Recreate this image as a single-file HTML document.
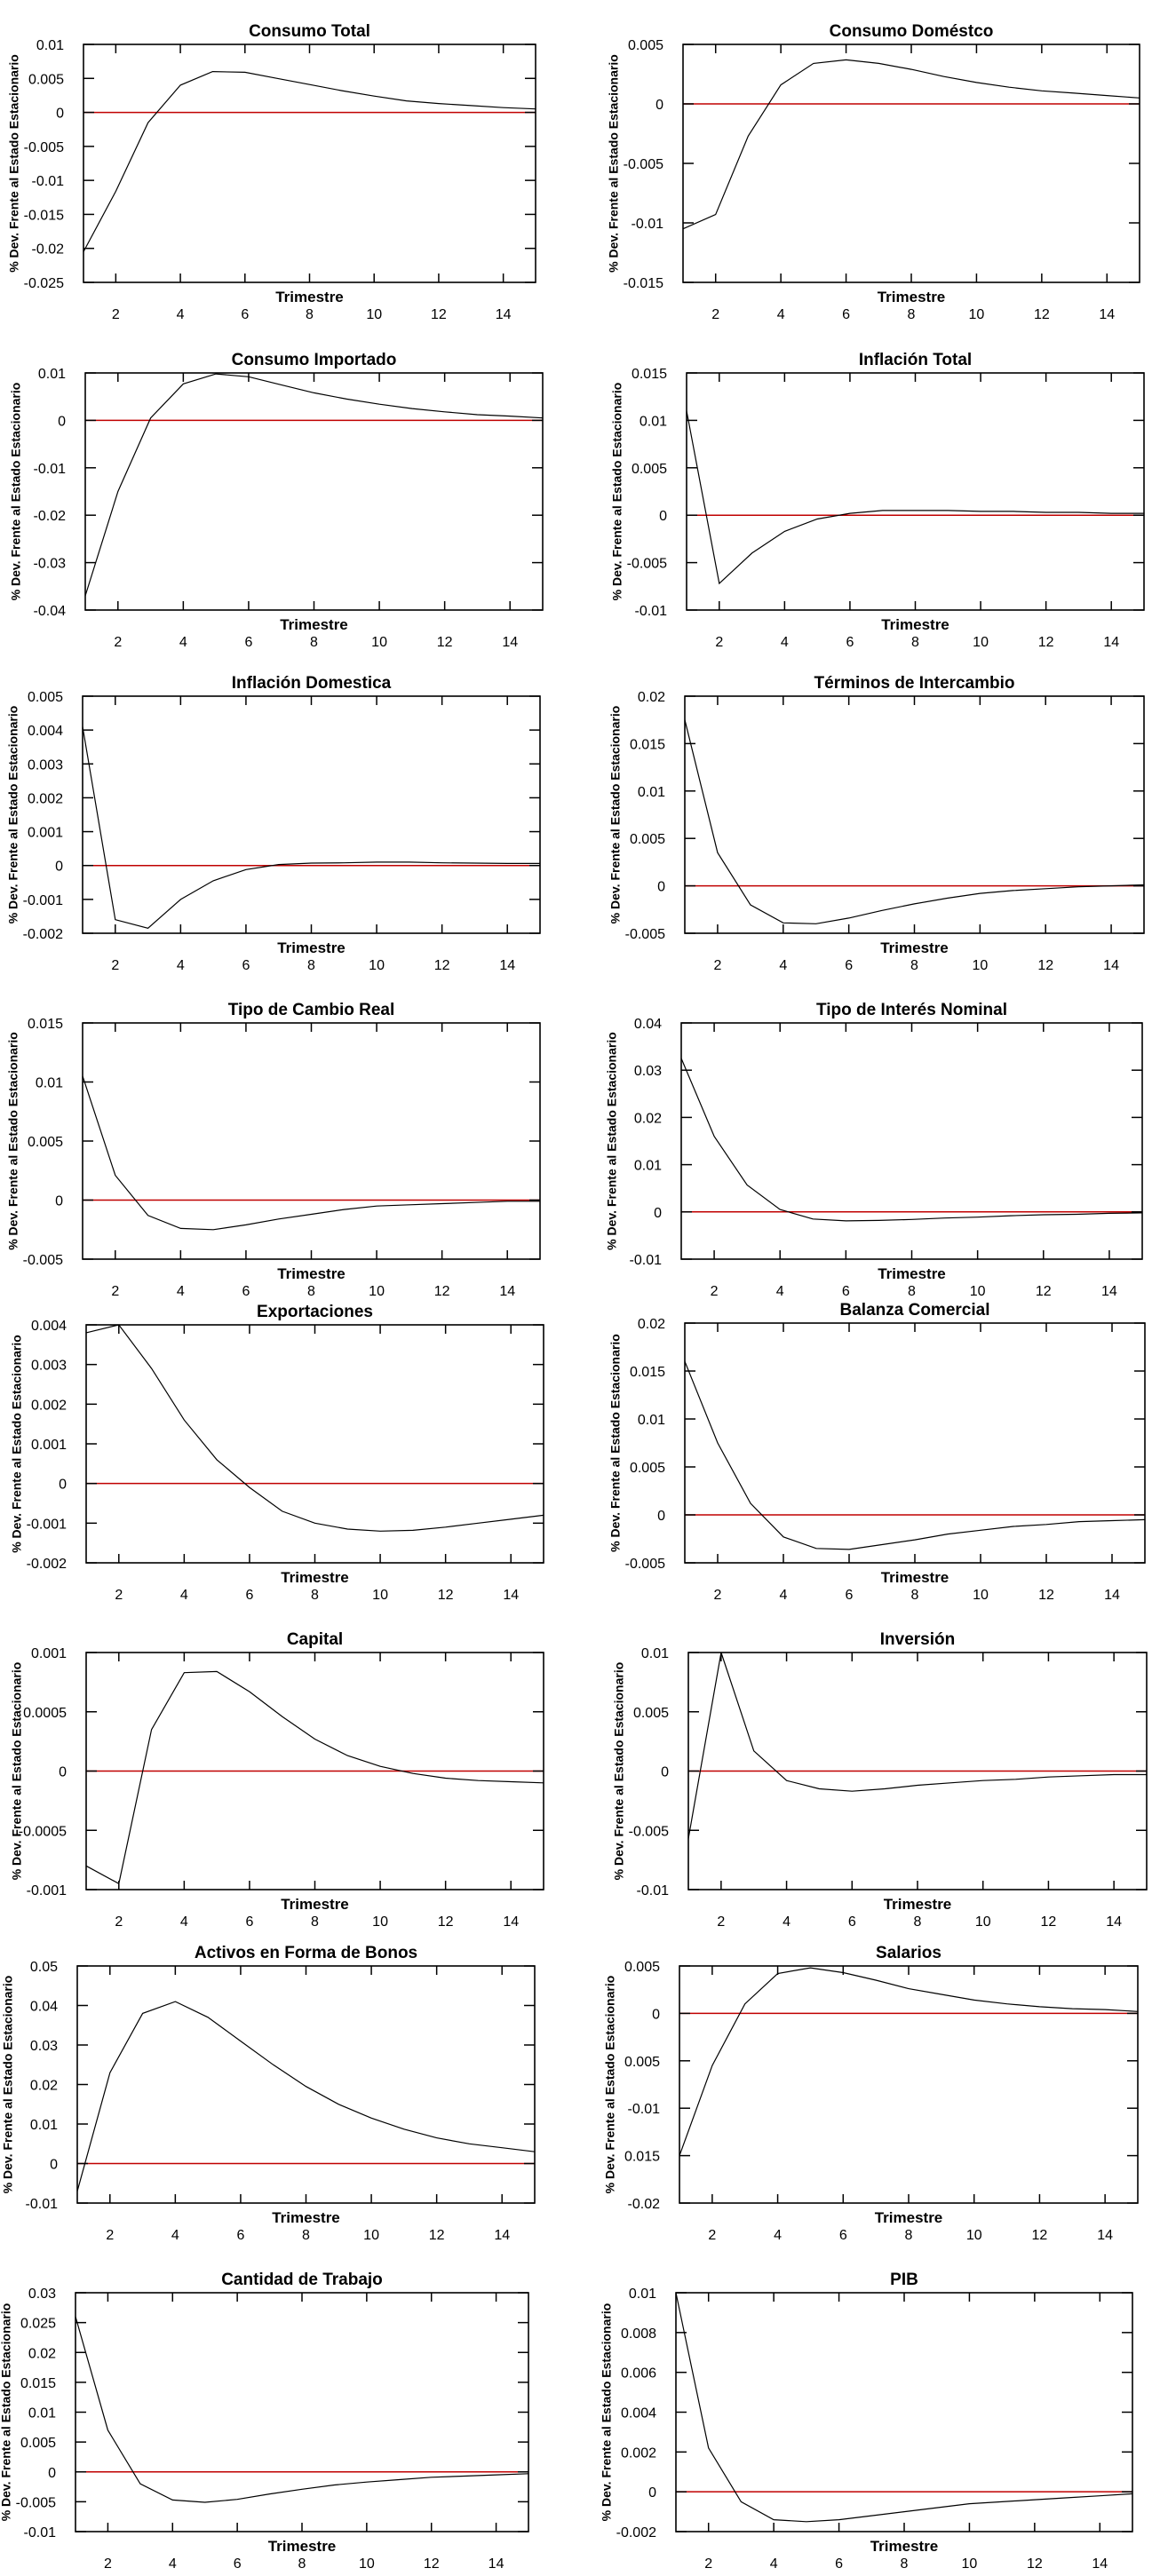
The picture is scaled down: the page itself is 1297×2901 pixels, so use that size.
<!DOCTYPE html>
<html><head><meta charset="utf-8"><style>
html,body{margin:0;padding:0;background:#fff;}
svg{display:block;font-family:"Liberation Sans",Arial,sans-serif;}
</style></head><body>
<svg id="c" width="1297" height="2901" viewBox="0 0 1297 2901"></svg>
<script>
const quarters = [1,2,3,4,5,6,7,8,9,10,11,12,13,14,15];
const titles = ["Consumo Total","Consumo Doméstco","Consumo Importado","Inflación Total","Inflación Domestica","Términos de Intercambio","Tipo de Cambio Real","Tipo de Interés Nominal","Exportaciones","Balanza Comercial","Capital","Inversión","Activos en Forma de Bonos","Salarios","Cantidad de Trabajo","PIB"];
const consumoTotal = [-0.0205,-0.0116,-0.0015,0.004,0.006,0.0059,0.005,0.0041,0.0032,0.0024,0.0017,0.0013,0.001,0.0007,0.0005];
const consumoDomestico = [-0.0105,-0.0093,-0.0027,0.0016,0.0034,0.0037,0.0034,0.0029,0.0023,0.0018,0.0014,0.0011,0.0009,0.0007,0.0005];
const consumoImportado = [-0.037,-0.015,0.0005,0.0077,0.0098,0.0092,0.0075,0.0058,0.0045,0.0034,0.0025,0.0018,0.0012,0.0009,0.0005];
const inflacionTotal = [0.011,-0.0072,-0.004,-0.0017,-0.0004,0.0002,0.0005,0.0005,0.0005,0.0004,0.0004,0.0003,0.0003,0.0002,0.0002];
const inflacionDomestica = [0.0041,-0.0016,-0.00185,-0.001,-0.00045,-0.00012,0.00003,0.00007,0.00008,0.0001,0.0001,0.00008,0.00007,0.00006,0.00006];
const terminosIntercambio = [0.0175,0.0035,-0.002,-0.0039,-0.004,-0.0034,-0.0026,-0.0019,-0.0013,-0.0008,-0.0005,-0.0003,-0.0001,0,0.0001];
const tipoCambioReal = [0.0105,0.0021,-0.0013,-0.0024,-0.0025,-0.0021,-0.0016,-0.0012,-0.0008,-0.0005,-0.0004,-0.0003,-0.0002,-0.0001,-0.0001];
const tipoInteres = [0.0325,0.016,0.0057,0.0005,-0.0015,-0.0019,-0.0018,-0.0016,-0.0013,-0.0011,-0.0008,-0.0006,-0.0005,-0.0003,-0.0002];
const exportaciones = [0.0038,0.004,0.0029,0.0016,0.0006,-0.0001,-0.0007,-0.001,-0.00115,-0.0012,-0.00118,-0.0011,-0.001,-0.0009,-0.0008];
const balanzaComercial = [0.016,0.0075,0.0012,-0.0023,-0.0035,-0.0036,-0.0031,-0.0026,-0.002,-0.0016,-0.0012,-0.001,-0.0007,-0.0006,-0.0005];
const capital = [-0.0008,-0.00095,0.00035,0.00083,0.00084,0.00067,0.00046,0.00027,0.00013,0.00004,-0.00002,-0.00006,-0.00008,-0.00009,-0.0001];
const inversion = [-0.0057,0.01,0.0017,-0.0008,-0.0015,-0.0017,-0.0015,-0.0012,-0.001,-0.0008,-0.0007,-0.0005,-0.0004,-0.0003,-0.0003];
const activosBonos = [-0.007,0.023,0.038,0.041,0.037,0.031,0.025,0.0195,0.015,0.0115,0.0087,0.0065,0.005,0.004,0.003];
const salarios = [-0.015,-0.0055,0.001,0.0042,0.0048,0.0043,0.0035,0.0026,0.002,0.0014,0.001,0.0007,0.0005,0.0004,0.0002];
const cantidadTrabajo = [0.026,0.007,-0.002,-0.0047,-0.0051,-0.0046,-0.0037,-0.0029,-0.0022,-0.0017,-0.0013,-0.0009,-0.0007,-0.0005,-0.0003];
const pib = [0.01,0.0022,-0.0005,-0.0014,-0.0015,-0.0014,-0.0012,-0.001,-0.0008,-0.0006,-0.0005,-0.0004,-0.0003,-0.0002,-0.0001];
const seriesList = [consumoTotal,consumoDomestico,consumoImportado,inflacionTotal,inflacionDomestica,terminosIntercambio,tipoCambioReal,tipoInteres,exportaciones,balanzaComercial,capital,inversion,activosBonos,salarios,cantidadTrabajo,pib];
const yTickValues = [
 [-0.025,-0.02,-0.015,-0.01,-0.005,0,0.005,0.01],
 [-0.015,-0.01,-0.005,0,0.005],
 [-0.04,-0.03,-0.02,-0.01,0,0.01],
 [-0.01,-0.005,0,0.005,0.01,0.015],
 [-0.002,-0.001,0,0.001,0.002,0.003,0.004,0.005],
 [-0.005,0,0.005,0.01,0.015,0.02],
 [-0.005,0,0.005,0.01,0.015],
 [-0.01,0,0.01,0.02,0.03,0.04],
 [-0.002,-0.001,0,0.001,0.002,0.003,0.004],
 [-0.005,0,0.005,0.01,0.015,0.02],
 [-0.001,-0.0005,0,0.0005,0.001],
 [-0.01,-0.005,0,0.005,0.01],
 [-0.01,0,0.01,0.02,0.03,0.04,0.05],
 [-0.02,-0.015,-0.01,-0.005,0,0.005],
 [-0.01,-0.005,0,0.005,0.01,0.015,0.02,0.025,0.03],
 [-0.002,0,0.002,0.004,0.006,0.008,0.01]
];
const yTickLabels = [
 ["-0.025","-0.02","-0.015","-0.01","-0.005","0","0.005","0.01"],
 ["-0.015","-0.01","-0.005","0","0.005"],
 ["-0.04","-0.03","-0.02","-0.01","0","0.01"],
 ["-0.01","-0.005","0","0.005","0.01","0.015"],
 ["-0.002","-0.001","0","0.001","0.002","0.003","0.004","0.005"],
 ["-0.005","0","0.005","0.01","0.015","0.02"],
 ["-0.005","0","0.005","0.01","0.015"],
 ["-0.01","0","0.01","0.02","0.03","0.04"],
 ["-0.002","-0.001","0","0.001","0.002","0.003","0.004"],
 ["-0.005","0","0.005","0.01","0.015","0.02"],
 ["-0.001","-0.0005","0","0.0005","0.001"],
 ["-0.01","-0.005","0","0.005","0.01"],
 ["-0.01","0","0.01","0.02","0.03","0.04","0.05"],
 ["-0.02","0.015","-0.01","0.005","0","0.005"],
 ["-0.01","-0.005","0","0.005","0.01","0.015","0.02","0.025","0.03"],
 ["-0.002","0","0.002","0.004","0.006","0.008","0.01"]
];
const xTickValues = [2,4,6,8,10,12,14];
// layout (pixel boxes, presentation only)
const boxes = [
 [94,50,603,318],[769,50,1283,318],
 [96,420,611,687],[773,420,1288,687],
 [93,784,608,1051],[771,784,1288,1051],
 [93,1152,608,1418],[767,1152,1286,1418],
 [97,1492,612,1760],[771,1490,1289,1760],
 [97,1861,612,2128],[775,1861,1291,2128],
 [87,2214,602,2481],[765,2214,1281,2481],
 [85,2582,595,2851],[761,2582,1275,2851]
];
const NS="http://www.w3.org/2000/svg";
const svg=document.getElementById('c');
function mk(tag,attrs,parent){const e=document.createElementNS(NS,tag);for(const k in attrs)e.setAttribute(k,attrs[k]);(parent||svg).appendChild(e);return e;}
seriesList.forEach((data,i)=>{
 const [L,T,R,B]=boxes[i];
 const yt=yTickValues[i];
 const ymin=yt[0], ymax=yt[yt.length-1];
 const xs=v=>L+(v-1)/(14)*(R-L);
 const ys=v=>B-(v-ymin)/(ymax-ymin)*(B-T);
 const g=mk('g',{});
 
 
 const t=mk('text',{x:(L+R)/2,y:T-9,'text-anchor':'middle','font-size':19,'font-weight':'bold'},g);
 t.textContent=titles[i];
 
 
 const z=mk('line',{x1:L,x2:R,y1:ys(0),y2:ys(0),stroke:'#c00000','stroke-width':1.5},g);
 
 
 const pts=quarters.map((q,k)=>xs(q).toFixed(1)+','+ys(data[k]).toFixed(1)).join(' ');
 const pl=mk('polyline',{points:pts,fill:'none',stroke:'#000','stroke-width':1.2},g);
 
 
 const bx=mk('rect',{x:L,y:T,width:R-L,height:B-T,fill:'none',stroke:'#000','stroke-width':1.6},g);
 
 
 yt.forEach((v,k)=>{
  const y=ys(v);
  mk('line',{x1:L,x2:L+12,y1:y,y2:y,stroke:'#000','stroke-width':1.5},g);
  mk('line',{x1:R-12,x2:R,y1:y,y2:y,stroke:'#000','stroke-width':1.5},g);
  const lb=mk('text',{x:L-22,y:y+6,'text-anchor':'end','font-size':16},g);
  lb.textContent=yTickLabels[i][k];
  
  
 });
 xTickValues.forEach(v=>{
  const x=xs(v);
  mk('line',{x1:x,x2:x,y1:T,y2:T+10,stroke:'#000','stroke-width':1.5},g);
  mk('line',{x1:x,x2:x,y1:B-10,y2:B,stroke:'#000','stroke-width':1.5},g);
  const lb=mk('text',{x:x,y:B+41,'text-anchor':'middle','font-size':16},g);
  lb.textContent=v;
  
  
 });
 const xt=mk('text',{x:(L+R)/2,y:B+22,'text-anchor':'middle','font-size':17,'font-weight':'bold'},g);
 xt.textContent='Trimestre';
 
 
 const cy=(T+B)/2, cx=L-77;
 const yl=mk('text',{x:cx,y:cy,'text-anchor':'middle','font-size':14,'font-weight':'bold',transform:'rotate(-90 '+cx+' '+cy+')','dominant-baseline':'middle'},g);
 yl.textContent='% Dev. Frente al Estado Estacionario';
 
 
});
</script>
</body></html>
